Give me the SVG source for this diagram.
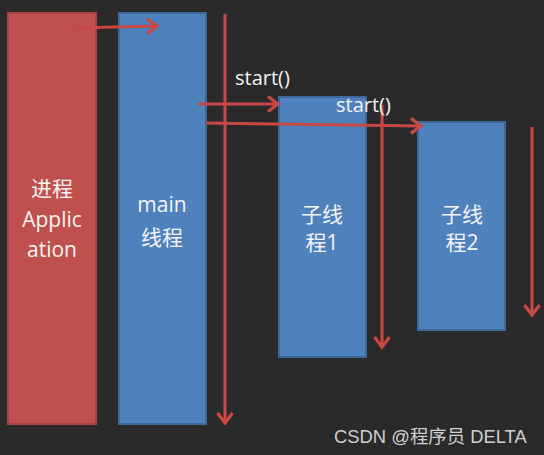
<svg xmlns="http://www.w3.org/2000/svg" width="544" height="455" viewBox="0 0 544 455">
<style>
.red{fill:#c0504d;stroke:#a8403d;stroke-width:2}
.blue{fill:#4f81bd;stroke:#3d6898;stroke-width:2}
.t{fill:#f4f4f4;font-family:"Open Sans","Noto Sans CJK SC",sans-serif;font-size:21px;text-anchor:middle}
.s{fill:#f4f4f4;font-family:"Open Sans","Noto Sans CJK SC",sans-serif;font-size:20px}
.c{fill:none;stroke:#c94845;stroke-width:3}
.wm{fill:#d0d0d0;font-family:"Liberation Sans","Noto Sans CJK SC",sans-serif;font-size:18.4px}
</style>
<defs>
<marker id="ah" markerWidth="16" markerHeight="20" refX="12" refY="9" orient="auto" markerUnits="userSpaceOnUse">
<path d="M2,1.5 L12,9 L2,16.5" fill="none" stroke="#c94845" stroke-width="3.2"/>
</marker>
</defs>
<rect width="544" height="455" fill="#2a2a2a"/>
<g id="process">
<rect class="red" x="8" y="13" width="88" height="411"/>
<text class="t" x="52" y="196">进程</text>
<text class="t" x="52" y="227">Applic</text>
<text class="t" x="52" y="257">ation</text>
</g>
<g id="main">
<rect class="blue" x="119" y="13" width="87" height="411"/>
<text class="t" x="162" y="212">main</text>
<text class="t" x="162" y="245">线程</text>
</g>
<g id="thread1">
<rect class="blue" x="279" y="97" width="87" height="260"/>
<text class="t" x="322" y="222">子线</text>
<text class="t" x="322" y="250">程1</text>
</g>
<g id="thread2">
<rect class="blue" x="418" y="122" width="87" height="208"/>
<text class="t" x="462" y="222">子线</text>
<text class="t" x="462" y="250">程2</text>
</g>
<g id="connectors">
<line class="c" x1="75" y1="28" x2="157" y2="26" marker-end="url(#ah)"/>
<line class="c" x1="225" y1="14" x2="225" y2="423" marker-end="url(#ah)"/>
<line class="c" x1="198" y1="104" x2="278" y2="104" marker-end="url(#ah)"/>
<line class="c" x1="206" y1="123" x2="421" y2="126" marker-end="url(#ah)"/>
<line class="c" x1="382" y1="105" x2="382" y2="347" marker-end="url(#ah)"/>
<line class="c" x1="532" y1="127" x2="532" y2="315" marker-end="url(#ah)"/>
<text class="s" x="235" y="85">start()</text>
<text class="s" x="336" y="112">start()</text>
</g>
<text class="wm" x="334" y="443">CSDN @程序员 DELTA</text>
</svg>
